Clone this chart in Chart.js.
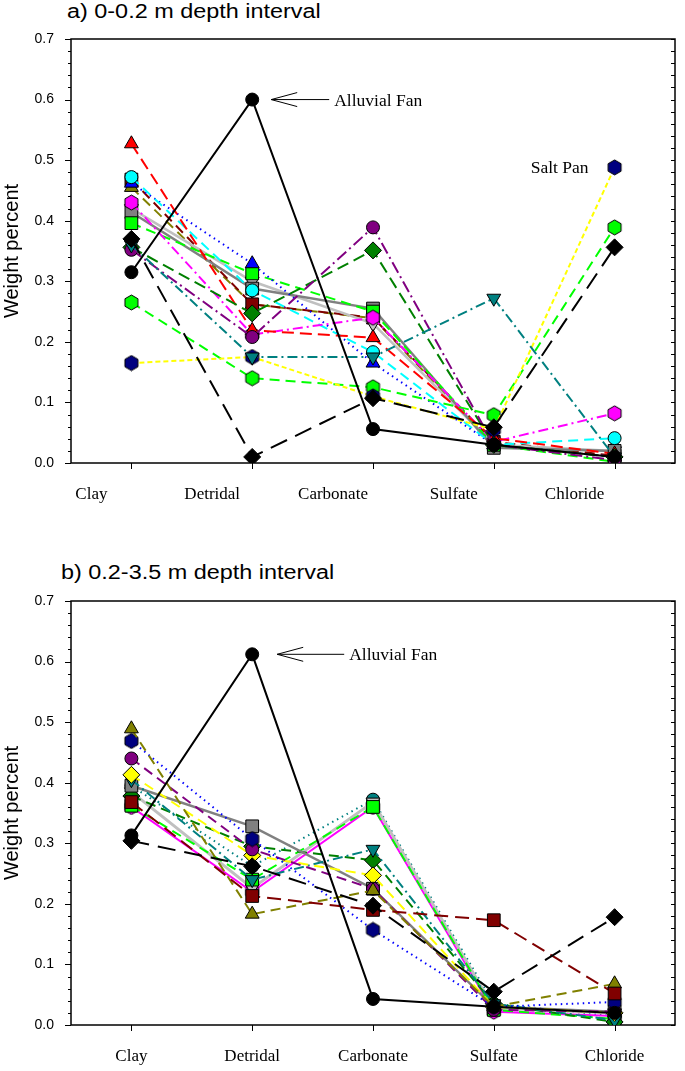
<!DOCTYPE html>
<html>
<head>
<meta charset="utf-8">
<script src="https://cdn.jsdelivr.net/npm/chart.js@4.4.1/dist/chart.umd.min.js"></script>
<style>
body { margin: 0; background: #fff; width: 685px; height: 1071px; position: relative; overflow: hidden; }
.box { position: absolute; left: 0; }
.ttl { position: absolute; font: 20px "Liberation Sans", Arial, sans-serif; color: #000; white-space: nowrap;
       transform: scaleX(1.17); transform-origin: left top; }
</style>
</head>
<body>
<div class="ttl" style="left:67px;top:0px">a) 0-0.2 m depth interval</div>
<div class="ttl" style="left:61px;top:561px">b) 0.2-3.5 m depth interval</div>
<div class="box" style="top:0"><canvas id="chartA" width="685" height="530"></canvas></div>
<div class="box" style="top:540px"><canvas id="chartB" width="685" height="531"></canvas></div>
<script>
const categories = ["Clay", "Detridal", "Carbonate", "Sulfate", "Chloride"];
const yTicks = [0, 0.1, 0.2, 0.3, 0.4, 0.5, 0.6, 0.7];

// a) 0-0.2 m  (Clay, Detridal, Carbonate, Sulfate, Chloride)
const aAlluvial  = [0.315, 0.600, 0.056, 0.030, 0.010];
const aBlackDia  = [0.370, 0.010, 0.107, 0.059, 0.356];
const aNavy      = [0.165, 0.175, 0.110, 0.055, 0.488];
const aLimeHex   = [0.265, 0.140, 0.125, 0.079, 0.389];
const aTeal      = [0.360, 0.175, 0.175, 0.272, 0.010];
const aPurple    = [0.352, 0.208, 0.389, 0.030, 0.005];
const aGreen     = [0.356, 0.247, 0.351, 0.030, 0.010];
const aRed       = [0.527, 0.219, 0.207, 0.041, 0.015];
const aMagenta   = [0.430, 0.212, 0.240, 0.035, 0.082];
const aCyan      = [0.472, 0.285, 0.183, 0.030, 0.041];
const aBlue      = [0.462, 0.329, 0.165, 0.030, 0.010];
const aLimeSq    = [0.396, 0.313, 0.250, 0.030, 0.002];
const aGray      = [0.414, 0.288, 0.255, 0.025, 0.020];
const aSilver    = [0.420, 0.300, 0.230, 0.030, 0.020];
const aDarkRed   = [0.468, 0.262, 0.240, 0.035, 0.012];
const aOlive     = [0.455, 0.262, 0.239, 0.030, 0.010];

// b) 0.2-3.5 m
const bAlluvial  = [0.313, 0.612, 0.043, 0.030, 0.020];
const bBlackDia  = [0.304, 0.262, 0.197, 0.055, 0.178];
const bDarkRed   = [0.368, 0.213, 0.190, 0.173, 0.052];
const bOlive     = [0.489, 0.183, 0.222, 0.030, 0.068];
const bNavy      = [0.469, 0.307, 0.157, 0.030, 0.038];
const bPurple    = [0.440, 0.290, 0.225, 0.025, 0.022];
const bYellow    = [0.413, 0.280, 0.247, 0.030, 0.020];
const bTeal      = [0.405, 0.240, 0.290, 0.035, 0.008];
const bGray      = [0.395, 0.328, 0.225, 0.030, 0.022];
const bGreen     = [0.378, 0.295, 0.272, 0.035, 0.005];
const bLime      = [0.362, 0.240, 0.360, 0.025, 0.010];
const bSilver    = [0.385, 0.226, 0.368, 0.028, 0.020];
const bMagenta   = [0.360, 0.220, 0.360, 0.022, 0.015];
const bTealDot   = [0.395, 0.262, 0.372, 0.035, 0.015];

// hexagon marker
function hexagon(fill) {
    const c = document.createElement("canvas");
    c.width = 17; c.height = 17;
    const g = c.getContext("2d");
    g.beginPath();
    for (let k = 0; k < 6; k++) {
        const ang = -Math.PI / 2 + k * Math.PI / 3;
        const px = 8.5 + 7.5 * Math.cos(ang), py = 8.5 + 7.5 * Math.sin(ang);
        k ? g.lineTo(px, py) : g.moveTo(px, py);
    }
    g.closePath();
    g.fillStyle = fill; g.fill();
    g.strokeStyle = "#000"; g.lineWidth = 1; g.stroke();
    return c;
}

const radius = { circle: 6.5, rect: 9, triangle: 8, down: 8, rectRot: 8.5, hex: 8 };
const DASH = [18, 9], MID = [10, 6], DOT = [1.5, 4], DASHDOT = [10, 4, 2, 4];

function series(values, marker, fill, line, dash, width) {
    let style = marker, rot = 0;
    if (marker === "down") { style = "triangle"; rot = 180; }
    if (marker === "hex") style = hexagon(fill);
    return {
        data: values.map((v, i) => ({ x: i + 1, y: v })),
        borderColor: line,
        borderWidth: width || 2,
        borderDash: dash || [],
        pointStyle: style,
        pointRotation: rot,
        pointRadius: radius[marker],
        pointBackgroundColor: fill,
        pointBorderColor: "#000",
        pointBorderWidth: 1,
        tension: 0
    };
}

// first dataset is drawn on top
const setsA = [
    series(aAlluvial, "circle", "#000", "#000", [], 2),
    series(aBlackDia, "rectRot", "#000", "#000", DASH),
    series(aTeal, "down", "#008080", "#008080", DASHDOT),
    series(aNavy, "hex", "#000080", "#ffff00", [5, 3]),
    series(aLimeHex, "hex", "#00ff00", "#00ff00", MID),
    series(aPurple, "circle", "#800080", "#800080", [12, 4, 2, 4]),
    series(aGreen, "rectRot", "#008000", "#008000", [12, 6]),
    series(aRed, "triangle", "#ff0000", "#ff0000", [12, 6]),
    series(aMagenta, "hex", "#ff00ff", "#ff00ff", DASHDOT),
    series(aCyan, "circle", "#00ffff", "#00ffff", MID),
    series(aBlue, "triangle", "#0000ff", "#0000ff", DOT),
    series(aLimeSq, "rect", "#00ff00", "#00ff00", MID),
    series(aGray, "rect", "#808080", "#808080", [], 2.5),
    series(aSilver, "down", "#c0c0c0", "#c0c0c0", [], 2.5),
    series(aDarkRed, "rect", "#800000", "#800000", MID),
    series(aOlive, "triangle", "#808000", "#808000", MID)
];

const setsB = [
    series(bAlluvial, "circle", "#000", "#000", [], 2),
    series(bBlackDia, "rectRot", "#000", "#000", DASH),
    series(bDarkRed, "rect", "#800000", "#800000", [14, 7]),
    series(bOlive, "triangle", "#808000", "#808000", MID),
    series(bNavy, "hex", "#000080", "#0000ff", DOT),
    series(bPurple, "circle", "#800080", "#800080", MID),
    series(bYellow, "rectRot", "#ffff00", "#ffff00", MID),
    series(bTeal, "down", "#008080", "#008080", DASHDOT),
    series(bGray, "rect", "#808080", "#808080", [], 2.5),
    series(bGreen, "rectRot", "#008000", "#008000", MID),
    series(bLime, "rect", "#00ff00", "#00ff00", MID),
    series(bSilver, "down", "#c0c0c0", "#c0c0c0", [], 3),
    series(bMagenta, "hex", "#ff00ff", "#ff00ff", []),
    series(bTealDot, "circle", "#008080", "#008080", DOT)
];

/* ------------------------------
   FRAME, MINOR TICKS, NOTES
------------------------------- */
const frame = {
    id: "frame",
    beforeDatasetsDraw(chart) {
        const { ctx, chartArea: a, scales: { x, y } } = chart;
        ctx.save();
        ctx.strokeStyle = "#000";
        ctx.lineWidth = 1.5;
        ctx.strokeRect(a.left, a.top, a.right - a.left, a.bottom - a.top);
        ctx.lineWidth = 1;
        ctx.beginPath();
        for (let v = 0; v <= 70; v += 2) {
            const p = Math.round(y.getPixelForValue(v / 100)) + 0.5;
            const len = v % 10 === 0 ? 6 : 3;
            ctx.moveTo(a.left - len, p); ctx.lineTo(a.left, p);
            ctx.moveTo(a.right, p); ctx.lineTo(a.right - 4, p);
        }
        categories.forEach((c, i) => {
            const p = Math.round(x.getPixelForValue(i + 1)) + 0.5;
            ctx.moveTo(p, a.bottom); ctx.lineTo(p, a.bottom + 6);
        });
        ctx.stroke();
        ctx.restore();
    },
    afterDraw(chart) {
        const notes = chart.options.plugins.frame.notes || [];
        const { ctx, scales: { x, y } } = chart;
        ctx.save();
        ctx.fillStyle = "#000";
        ctx.strokeStyle = "#000";
        ctx.font = '17.5px "Liberation Serif", "Times New Roman", serif';
        ctx.textBaseline = "middle";
        notes.forEach(n => {
            const px = x.getPixelForValue(n.x), py = y.getPixelForValue(n.y);
            if (n.arrow) {
                const [tip, tail] = n.arrow;
                ctx.lineWidth = 1;
                ctx.beginPath();
                ctx.moveTo(px + tip, py); ctx.lineTo(px + tail, py);
                ctx.moveTo(px + tip + 26, py - 7); ctx.lineTo(px + tip, py); ctx.lineTo(px + tip + 26, py + 7);
                ctx.stroke();
            }
            ctx.textAlign = n.align || "left";
            ctx.fillText(n.text, px + n.dx, py + n.dy);
        });
        ctx.restore();
    }
};

function options(pad, xHeight, labelOffset, labelPad, notes) {
    return {
        responsive: false,
        animation: false,
        devicePixelRatio: 1,
        layout: { padding: { top: pad, right: 6, left: 0, bottom: 0 } },
        plugins: { legend: { display: false }, tooltip: { enabled: false }, frame: { notes: notes } },
        scales: {
            x: {
                type: "linear", min: 0.5, max: 5.5,
                grid: { display: false, drawTicks: false }, border: { display: false },
                afterBuildTicks: s => { s.ticks = categories.map((c, i) => ({ value: i + 1 })); },
                afterFit: s => { s.height = xHeight; },
                ticks: {
                    callback: v => categories[v - 1],
                    color: "#000", padding: labelPad, labelOffset: labelOffset, maxRotation: 0,
                    font: { family: '"Liberation Serif", "Times New Roman", serif', size: 17 }
                }
            },
            y: {
                min: 0, max: 0.7,
                grid: { display: false, drawTicks: false }, border: { display: false },
                afterBuildTicks: s => { s.ticks = yTicks.map(v => ({ value: v })); },
                afterFit: s => { s.width = 71; },
                ticks: {
                    callback: v => v.toFixed(1), color: "#000", padding: 17,
                    font: { family: '"Liberation Sans", Arial, sans-serif', size: 14 }
                },
                title: {
                    display: true, text: "Weight percent", color: "#000", padding: { top: 0, bottom: 0 },
                    font: { family: '"Liberation Sans", Arial, sans-serif', size: 20 }
                }
            }
        }
    };
}

new Chart(chartA, {
    type: "line",
    data: { datasets: setsA },
    options: options(39, 67, -40, 21, [
        { text: "Alluvial Fan", x: 2, y: aAlluvial[1], dx: 82, dy: 2, arrow: [19, 77] },
        { text: "Salt Pan", x: 5, y: aNavy[4], dx: -26, dy: 1, align: "right" }
    ]),
    plugins: [frame]
});

new Chart(chartB, {
    type: "line",
    data: { datasets: setsB },
    options: options(61, 46, 0, 21, [
        { text: "Alluvial Fan", x: 2, y: bAlluvial[1], dx: 97, dy: 1, arrow: [25, 92] }
    ]),
    plugins: [frame]
});
</script>
</body>
</html>
